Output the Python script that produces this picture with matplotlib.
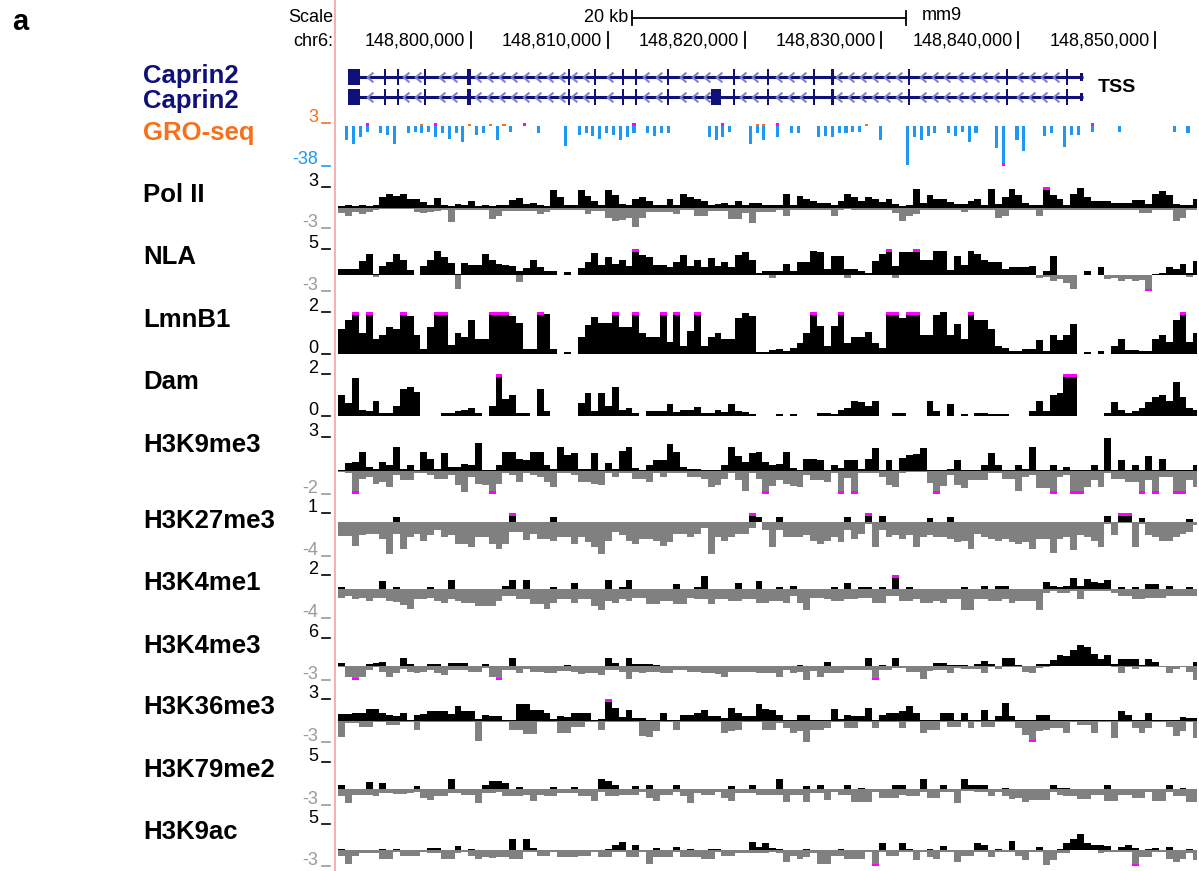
import numpy as np
import matplotlib
matplotlib.use('Agg')
import matplotlib.pyplot as plt
from matplotlib.path import Path
from matplotlib.patches import Rectangle

plt.rcParams['font.family'] = ['Liberation Sans', 'DejaVu Sans']

W, H = 1199, 871
nan = float('nan')

# genomic window (mm9, chr6), signal summarised in 500 bp bins
view_start, view_end = 148790278, 148853070
bin_start, bin_size, n_bins = 148790300, 500, 126
ruler_ticks = [148800000, 148810000, 148820000, 148830000, 148840000, 148850000]
scale_start, scale_len = 148811770, 20000

# Caprin2 (minus strand, TSS on the right); (start, end, kind)
gene_span = (148791009, 148844737)
shared_exons = [(148791009, 148791886, 'thick'), (148793610, 148793760, 'thick'),
                (148794575, 148794725, 'thick'), (148796585, 148796735, 'thick'),
                (148799730, 148799980, 'thick'), (148807075, 148807225, 'thick'),
                (148809010, 148809160, 'thick'), (148811020, 148811170, 'thick'),
                (148811985, 148812135, 'thick'), (148814325, 148814475, 'thick'),
                (148819135, 148819285, 'thick'), (148821615, 148821765, 'thick'),
                (148825000, 148825150, 'thick'), (148826320, 148826570, 'thick'),
                (148831945, 148832095, 'thick'), (148839105, 148839255, 'thick'),
                (148843490, 148843640, 'thick'), (148844520, 148844737, 'thin')]
tx1_exons = shared_exons
tx2_exons = shared_exons + [(148817544, 148818275, 'thick')]

# GRO-seq: minus strand (blue, shown downwards) and plus strand reads, by bin
gro_minus = {1: 13, 2: 17, 3: 10, 4: 6, 6: 7, 7: 8, 8: 17, 10: 7, 11: 6, 12: 7, 13: 6,
             14: 10, 15: 7, 16: 12, 17: 7, 18: 15, 20: 8, 21: 7, 23: 13, 25: 6, 29: 7,
             33: 19, 35: 8, 36: 7, 37: 9, 38: 12, 39: 7, 40: 8, 41: 13, 42: 10, 43: 7,
             45: 7, 46: 9, 47: 7, 48: 7, 54: 10, 55: 13, 56: 10, 57: 6, 60: 17, 61: 7,
             62: 13, 64: 10, 66: 7, 67: 7, 70: 10, 71: 9, 72: 10, 73: 7, 74: 7, 75: 6,
             76: 6, 79: 13, 83: 37.5, 84: 10, 85: 13, 86: 9, 87: 7, 89: 7, 90: 9, 91: 6,
             92: 15, 93: 7, 96: 21, 97: 42, 99: 13, 100: 24, 103: 9, 104: 7, 106: 20,
             107: 8, 108: 8, 110: 6, 114: 6, 122: 6, 124: 7}
gro_plus = {4: 5, 12: 2.5, 14: 5, 19: 2.5, 22: 2.5, 24: 2.5, 27: 5, 43: 5, 56: 5,
            61: 2.5, 62: 2.5, 64: 5, 77: 2.5, 110: 5}

pol2_up = [0.2, 0.3, 0.2, 0.3, 0.2, 0.3, 1.5, 2.0, 1.7, 2.0,
           1.2, 1.3, 0.8, 0.3, 1.4, 0.3, 0.2, 0.5, 0.3, 0.9,
           0.2, 0.3, 0.2, 0.4, 0.3, 1.1, 1.4, 0.5, 0.6, 0.3,
           0.2, 2.5, 1.5, 0.4, 0.3, 2.6, 1.7, 0.9, 0.3, 2.5,
           1.8, 0.5, 0.4, 1.2, 1.6, 1.0, 0.4, 0.3, 1.2, 0.4,
           2.0, 1.5, 1.2, 0.9, 0.3, 0.5, 0.6, 0.4, 1.0, 0.4,
           0.6, 0.7, 0.4, 0.4, 0.4, 2.0, 0.4, 1.7, 1.2, 1.0,
           0.7, 0.7, 0.3, 1.0, 2.0, 1.6, 1.0, 1.5, 1.2, 0.8,
           1.2, 0.5, 0.2, 0.3, 2.7, 0.6, 1.9, 1.3, 1.2, 0.8,
           0.5, 0.5, 1.0, 1.2, 0.4, 2.7, 0.5, 1.5, 2.7, 1.8,
           0.7, 0.4, 0.3, 3.2, 1.8, 1.2, 0.4, 2.0, 2.9, 1.5,
           1.0, 1.0, 1.0, 0.7, 0.7, 0.7, 1.1, 1.1, 0.5, 2.0,
           2.4, 1.8, 0.5, 0.3, 0.4, 1.2]
pol2_down = [0.8, 1.2, 0.7, 1.0, 0.6, 0.4, 0.2, 0.2, 0.2, 0.2,
             0.2, 0.7, 0.8, 0.6, 0.5, 0.3, 2.1, 0.4, 0.4, 0.4,
             0.4, 0.4, 1.7, 1.3, 0.5, 0.5, 0.5, 0.5, 0.5, 1.0,
             0.7, 0.3, 0.3, 0.3, 0.3, 0.3, 1.0, 0.5, 0.5, 1.5,
             2.0, 1.8, 1.5, 2.9, 1.5, 0.6, 0.6, 0.6, 0.6, 1.0,
             0.3, 0.3, 1.3, 1.3, 0.5, 0.5, 0.5, 1.7, 1.7, 0.8,
             2.3, 0.6, 0.6, 0.6, 0.3, 1.2, 0.3, 0.3, 0.4, 0.3,
             0.3, 0.4, 1.2, 0.3, 0.2, 0.3, 0.3, 0.3, 0.4, 0.3,
             0.4, 0.8, 2.0, 1.3, 1.0, 0.4, 0.3, 0.3, 0.3, 0.4,
             0.4, 0.6, 0.3, 0.3, 0.3, 0.4, 1.5, 1.2, 0.3, 0.3,
             0.3, 0.4, 1.3, 0.3, 0.3, 0.3, 0.3, 0.3, 0.3, 0.4,
             0.3, 0.3, 0.3, 0.3, 0.3, 0.3, 0.4, 0.8, 0.8, 0.3,
             0.3, 0.4, 2.0, 1.5, 0.4, 0.3]

nla_up = [1.1, 1.1, 1.2, 2.7, 4.0, 0.3, 1.8, 2.5, 4.0, 3.0,
          1.0, nan, 1.8, 3.0, 4.6, 3.5, 2.4, 0.3, 2.4, 2.0,
          2.0, 4.0, 3.0, 2.1, 2.0, 1.8, 0.8, 1.3, 3.0, 1.5,
          0.8, 0.8, nan, 0.7, nan, 1.3, 2.5, 4.3, 2.0, 3.4,
          2.2, 3.0, 1.8, 5.5, 3.8, 3.5, 2.0, 2.0, 1.6, 2.6,
          3.8, 1.8, 3.0, 1.6, 3.2, 1.8, 2.5, 1.5, 3.8, 4.4,
          3.0, 0.5, 0.8, 0.8, 0.8, 2.1, 0.8, 2.6, 2.6, 4.7,
          4.4, 1.2, 3.6, 3.6, 1.2, 1.2, 0.8, 0.5, 2.8, 4.0,
          5.5, 1.8, 4.4, 4.4, 5.5, 3.0, 3.0, 4.7, 4.7, 1.0,
          3.7, 2.0, 4.7, 4.0, 3.0, 2.6, 2.6, 1.1, 1.5, 1.5,
          1.5, 1.8, 0.0, 0.8, 3.7, 0.0, 0.0, 0.0, nan, 0.8,
          nan, 1.5, 0.0, 0.0, 0.0, 0.0, 0.0, 0.0, 0.0, 0.3,
          0.4, 1.5, 1.2, 2.1, 0.5, 2.8]
nla_down = {5: 0.4, 17: 2.7, 26: 1.3, 63: 0.5, 74: 0.6, 81: 0.6, 102: 0.5, 103: 0.3,
            104: 1.0, 105: 0.8, 106: 1.5, 107: 2.7, 112: 0.8, 113: 0.6, 114: 1.0,
            115: 0.8, 116: 1.0, 117: 0.9, 118: 3.5, 124: 0.3}

lmnb1 = [1.2, 1.6, 2.1, 1.0, 2.1, 0.7, 0.9, 1.3, 1.2, 2.1,
         1.8, 0.9, 0.25, 1.3, 2.1, 2.1, 0.45, 1.0, 0.8, 1.6,
         0.7, 0.7, 2.1, 2.1, 2.1, 1.8, 1.5, 0.25, 0.25, 2.1,
         1.9, 0.25, nan, 0.1, nan, 0.8, 1.4, 1.75, 1.5, 1.5,
         2.1, 1.3, 1.3, 2.1, 1.0, 0.8, 0.8, 2.1, 0.55, 2.1,
         0.4, 1.1, 2.1, 0.4, 0.8, 1.0, 0.7, 0.7, 1.7, 1.95,
         1.8, 0.1, 0.1, 0.2, 0.25, 0.15, 0.3, 0.5, 1.0, 2.1,
         1.35, 0.4, 1.35, 2.1, 0.5, 0.8, 0.8, 1.05, 0.5, 0.3,
         2.1, 2.1, 1.7, 2.1, 2.1, 0.9, 0.9, 1.85, 2.0, 0.9,
         1.45, 0.7, 2.1, 1.6, 1.6, 1.2, 0.4, 0.3, 0.15, 0.15,
         0.25, 0.25, 0.65, 0.15, 0.9, 0.65, 0.9, 1.45, nan, 0.1,
         nan, 0.15, nan, 0.4, 0.7, 0.2, 0.2, 0.15, 0.15, 0.7,
         0.9, 0.55, 1.6, 2.1, 0.55, 1.0]

dam = [1.0, 0.6, 1.8, 0.3, 0.25, 0.7, 0.15, 0.15, 0.5, 1.3,
       1.4, 1.15, nan, nan, nan, 0.15, 0.15, 0.25, 0.3, 0.4,
       0.15, nan, 0.5, 2.1, 0.8, 1.0, 0.15, 0.15, nan, 1.3,
       0.25, nan, nan, nan, nan, 0.6, 1.1, 0.25, 1.1, 0.5,
       1.4, 0.3, 0.4, 0.15, nan, 0.25, 0.25, 0.25, 0.55, 0.2,
       0.3, 0.3, 0.45, 0.15, 0.15, 0.3, 0.2, 0.55, 0.25, 0.2,
       0.1, nan, nan, nan, 0.1, nan, 0.1, nan, nan, nan,
       0.15, 0.15, 0.1, 0.3, 0.4, 0.7, 0.65, 0.5, 0.7, nan,
       nan, 0.15, 0.15, nan, nan, nan, 0.7, 0.25, nan, 0.55,
       nan, 0.1, nan, 0.15, 0.15, 0.1, 0.1, 0.1, nan, nan,
       nan, 0.25, 0.7, 0.25, 1.0, 1.1, 2.1, 2.1, nan, nan,
       nan, nan, 0.15, 0.65, 0.3, 0.15, 0.25, 0.4, 0.65, 0.9,
       1.0, 0.7, 1.6, 0.9, 0.4, 0.3]

h3k9me3_up = [0.1, 0.7, 0.85, 1.7, 0.4, 0.2, 0.85, 0.55, 2.1, 0.2,
              0.5, 0.1, 1.7, 1.1, 0.2, 1.6, 0.4, 0.4, 0.6, 0.5,
              2.5, 0.1, 0.1, 0.5, 1.7, 1.7, 1.1, 1.0, 1.7, 1.7,
              0.5, 0.2, 2.1, 1.4, 1.6, 0.2, 0.2, 1.6, 0.1, 0.7,
              0.2, 1.8, 2.1, 0.3, 0.1, 0.5, 1.0, 1.0, 2.4, 1.7,
              0.4, 0.2, 0.2, 0.1, 0.1, 0.1, 0.5, 2.1, 1.3, 0.8,
              1.6, 1.7, 0.8, 0.5, 0.6, 1.7, 0.3, 0.1, 1.1, 1.1,
              1.0, 0.1, 0.5, 0.3, 1.0, 1.0, 0.2, 1.1, 2.0, 0.1,
              1.0, 0.1, 1.2, 1.4, 1.5, 2.0, 0.1, 0.1, 0.1, 0.2,
              1.0, 0.1, 0.1, 0.1, 0.5, 1.6, 0.5, 0.1, 0.1, 0.5,
              0.2, 2.1, 0.1, 0.1, 0.5, 0.1, 0.4, 0.1, 0.1, 0.1,
              0.5, 0.1, 2.95, 0.1, 1.0, 0.1, 0.5, 0.1, 1.3, 0.1,
              1.1, 0.1, 0.1, 0.1, 0.1, 0.5]
h3k9me3_down = [0.1, 0.2, 2.2, 0.65, 0.5, 1.1, 0.95, 1.4, 0.3, 0.8,
                0.8, 0.2, 0.2, 0.3, 0.65, 0.65, 0.3, 1.25, 1.85, 0.5,
                1.1, 1.25, 2.2, 1.1, 0.2, 0.3, 0.95, 0.2, 0.3, 0.5,
                0.95, 1.4, 0.2, 0.2, 0.3, 0.95, 0.95, 1.1, 1.25, 0.2,
                0.5, 0.2, 0.2, 0.65, 0.65, 0.95, 0.2, 0.5, 0.2, 0.2,
                0.2, 0.5, 0.5, 0.65, 1.4, 1.25, 0.65, 0.2, 0.8, 1.7,
                0.2, 0.65, 2.2, 1.3, 0.8, 1.1, 1.3, 1.4, 0.3, 0.8,
                0.8, 0.95, 0.2, 2.2, 0.6, 2.2, 0.2, 0.2, 0.2, 0.5,
                1.25, 1.4, 0.2, 0.1, 0.1, 0.1, 1.0, 2.2, 1.3, 0.3,
                1.25, 1.5, 0.8, 0.8, 0.8, 0.2, 0.2, 0.65, 0.65, 1.7,
                0.5, 0.3, 1.5, 1.5, 2.2, 0.5, 0.3, 2.2, 2.2, 1.4,
                0.8, 1.4, 0.2, 0.65, 0.65, 0.95, 0.95, 2.2, 0.8, 2.2,
                0.5, 0.5, 2.2, 2.2, 0.8, 1.4]

h3k27me3_up = {8: 0.5, 25: 1.2, 31: 0.5, 60: 1.2, 61: 0.5, 64: 0.5, 74: 0.5, 77: 1.2,
               79: 0.7, 86: 0.4, 89: 0.5, 112: 0.7, 114: 1.2, 115: 1.2, 117: 0.4, 124: 0.3}
h3k27me3_down = [1.7, 1.7, 2.8, 1.6, 1.4, 1.4, 2.0, 3.8, 1.4, 3.2,
                 1.8, 1.4, 2.2, 1.6, 1.0, 1.8, 1.5, 2.6, 2.6, 3.0,
                 1.8, 1.8, 2.6, 3.2, 2.6, 1.2, 1.2, 2.1, 1.4, 2.0,
                 2.0, 2.2, 1.8, 1.8, 2.6, 1.8, 2.4, 3.0, 3.8, 2.2,
                 1.2, 1.6, 2.2, 2.6, 2.0, 2.0, 2.2, 2.8, 2.4, 1.4,
                 1.4, 1.8, 1.4, 0.8, 3.8, 1.8, 2.2, 1.8, 1.4, 1.4,
                 0.8, 0.1, 1.0, 3.0, 1.0, 1.8, 1.8, 1.8, 1.6, 2.2,
                 2.6, 2.2, 1.8, 2.4, 1.0, 2.0, 1.4, 0.3, 3.0, 1.0,
                 1.8, 1.6, 2.0, 1.6, 3.0, 1.8, 1.6, 1.8, 1.8, 2.0,
                 2.4, 2.2, 3.2, 1.4, 1.8, 2.0, 2.2, 2.0, 2.4, 2.6,
                 2.4, 3.2, 2.0, 2.0, 3.7, 2.0, 1.8, 3.3, 1.6, 1.8,
                 2.2, 3.0, 0.3, 1.6, 0.2, 0.2, 3.0, 0.3, 1.6, 1.8,
                 2.2, 2.2, 1.8, 1.4, 1.2, 0.4]

h3k4me1_up = {0: 0.3, 6: 1.2, 8: 0.3, 13: 0.3, 16: 1.3, 24: 0.5, 25: 1.3, 27: 1.3,
              31: 0.3, 34: 0.9, 39: 1.3, 41: 0.3, 42: 1.3, 49: 0.8, 52: 0.3, 53: 1.9,
              58: 0.9, 61: 1.2, 64: 0.3, 66: 0.5, 72: 0.3, 74: 0.9, 76: 0.3, 77: 0.3,
              79: 0.3, 81: 2.2, 83: 0.3, 91: 0.3, 94: 0.5, 96: 0.5, 97: 0.5, 103: 1.0,
              104: 0.4, 105: 0.3, 106: 0.5, 107: 1.6, 108: 0.5, 109: 1.5, 110: 1.0,
              111: 0.9, 112: 1.3, 114: 0.3, 116: 0.3, 118: 0.7, 119: 0.7, 121: 0.5, 124: 0.3}
h3k4me1_down = [1.2, 1.0, 1.4, 1.2, 1.6, 1.2, 1.2, 1.6, 1.8, 2.2,
                2.7, 1.4, 1.4, 1.2, 1.6, 1.9, 1.4, 1.6, 1.9, 1.9,
                2.3, 2.3, 2.3, 1.6, 1.0, 0.9, 1.4, 1.4, 2.1, 2.1,
                2.8, 1.9, 1.4, 1.4, 1.9, 1.4, 1.4, 2.3, 2.9, 1.6,
                1.9, 1.4, 1.6, 1.2, 1.2, 2.1, 2.1, 1.6, 1.6, 2.1,
                2.1, 1.2, 1.4, 1.4, 2.1, 1.4, 1.4, 1.6, 1.6, 1.4,
                1.4, 1.9, 1.9, 1.6, 1.6, 1.9, 0.9, 1.9, 2.9, 1.2,
                1.2, 1.4, 1.6, 1.6, 1.4, 1.4, 1.2, 1.2, 1.9, 1.9,
                0.9, 0.9, 1.6, 1.6, 1.4, 1.9, 1.9, 1.6, 1.9, 1.4,
                1.4, 2.9, 2.9, 1.4, 1.4, 1.6, 1.6, 1.4, 1.9, 1.6,
                1.6, 1.6, 2.9, 0.5, 0.3, 0.5, 0.5, 0.3, 1.3, 0.3,
                0.3, 0.3, 0.3, 0.5, 0.9, 0.9, 1.4, 1.4, 1.2, 1.2,
                1.2, 1.0, 1.0, 0.9, 0.9, 0.9]

h3k4me3_up = {0: 0.6, 4: 0.5, 5: 0.6, 6: 0.9, 9: 1.8, 10: 0.5, 13: 0.4, 14: 0.4, 16: 0.65,
              17: 0.65, 18: 0.65, 21: 0.4, 25: 1.8, 33: 0.2, 39: 1.8, 40: 0.6, 42: 1.8,
              43: 0.5, 44: 0.4, 45: 0.4, 46: 0.2, 67: 0.3, 71: 0.85, 77: 1.8, 79: 0.3,
              81: 1.7, 87: 0.7, 88: 0.7, 89: 0.3, 90: 0.3, 91: 0.3, 93: 0.5, 94: 1.0,
              95: 0.5, 97: 1.7, 98: 1.7, 99: 0.3, 102: 0.5, 103: 0.5, 104: 1.2, 105: 2.3,
              106: 2.1, 107: 3.5, 108: 4.6, 109: 4.1, 110: 2.6, 111: 1.6, 112: 2.3,
              113: 0.5, 114: 1.4, 115: 1.4, 116: 1.4, 117: 0.3, 118: 1.6, 119: 0.85, 125: 0.85}
h3k4me3_down = [0.3, 2.4, 3.2, 2.4, 0.8, 0.3, 1.3, 2.4, 1.5, 0.6,
                1.2, 1.6, 1.2, 0.9, 1.6, 2.0, 0.8, 0.8, 0.8, 1.3,
                1.3, 0.4, 2.4, 3.2, 0.9, 0.9, 1.5, 0.6, 1.3, 1.3,
                1.6, 1.6, 1.1, 1.1, 1.3, 1.8, 1.6, 1.6, 2.0, 0.8,
                0.8, 1.3, 2.7, 1.3, 1.6, 1.3, 1.3, 1.6, 1.6, 0.9,
                0.9, 1.3, 1.3, 1.6, 1.6, 1.8, 2.4, 1.3, 1.3, 1.3,
                1.3, 1.6, 1.6, 1.6, 2.4, 0.9, 1.6, 1.3, 2.9, 1.0,
                2.4, 1.6, 1.6, 1.6, 0.9, 0.9, 0.9, 0.9, 3.2, 0.9,
                0.9, 0.5, 0.5, 1.3, 1.3, 2.7, 1.0, 0.9, 0.9, 1.6,
                0.5, 0.6, 0.6, 0.6, 1.6, 0.3, 0.6, 0.3, 0.3, 0.3,
                1.3, 1.6, 0.5, 0.2, 0.0, 0.0, 0.0, 0.0, 0.0, 0.0,
                0.0, 0.0, 0.0, 0.2, 1.5, 0.3, 0.6, 0.3, 0.3, 0.3,
                0.3, 1.6, 0.6, 0.3, 1.3, 2.9]

h3k36me3_up = [0.9, 0.9, 1.1, 1.1, 1.6, 1.6, 1.0, 0.7, 0.6, 1.0,
               0.1, 0.8, 0.9, 1.3, 1.3, 1.3, 0.9, 2.0, 1.3, 1.3,
               0.2, 0.7, 0.6, 0.6, 0.1, 0.1, 2.3, 2.3, 1.5, 1.5,
               1.0, 0.2, 0.6, 0.5, 1.0, 1.0, 1.0, 0.1, 0.2, 3.1,
               1.7, 0.5, 1.5, 0.3, 0.3, 0.1, 0.1, 1.0, 0.1, 0.1,
               0.8, 0.8, 1.1, 1.5, 0.6, 0.6, 0.3, 1.8, 1.0, 0.6,
               0.6, 2.3, 1.6, 1.5, 0.8, 0.1, 0.1, 0.8, 0.8, 0.1,
               0.1, 0.1, 1.6, 0.2, 0.8, 0.6, 0.6, 1.8, 0.1, 0.8,
               1.0, 1.1, 1.3, 2.0, 1.0, 0.1, 0.1, 0.1, 1.1, 1.1,
               0.1, 1.0, 0.1, 0.1, 1.4, 0.1, 0.6, 2.4, 0.6, 0.1,
               0.1, 0.1, 0.7, 0.7, 0.1, 0.1, 0.1, 0.1, 0.1, 0.1,
               0.1, 0.1, 0.1, 0.1, 1.3, 0.8, 0.1, 0.1, 1.0, 0.1,
               0.1, 0.1, 0.1, 0.5, 0.3, 0.3]
h3k36me3_down = [2.3, 0.4, 0.4, 0.9, 0.9, 0.2, 0.2, 0.6, 0.6, 0.2,
                 0.2, 1.3, 0.2, 0.2, 0.2, 0.2, 0.2, 0.2, 0.2, 0.2,
                 2.9, 0.2, 0.2, 0.2, 0.2, 1.3, 1.3, 1.9, 1.9, 0.2,
                 0.2, 0.2, 1.8, 1.8, 0.9, 0.9, 0.2, 0.2, 1.3, 0.2,
                 0.2, 0.2, 0.2, 0.2, 2.1, 2.3, 1.5, 0.2, 0.2, 1.3,
                 0.2, 0.2, 0.2, 0.2, 0.2, 0.2, 1.8, 1.5, 1.3, 0.2,
                 0.2, 0.2, 1.3, 1.3, 0.3, 1.1, 1.8, 1.5, 3.0, 1.3,
                 1.3, 1.0, 0.2, 0.2, 1.1, 1.1, 0.2, 0.2, 1.1, 0.2,
                 0.2, 0.2, 1.1, 0.2, 0.2, 1.8, 1.3, 1.3, 0.2, 0.9,
                 0.9, 0.2, 1.1, 0.2, 0.9, 0.9, 0.2, 0.2, 0.2, 1.1,
                 2.0, 3.2, 1.5, 1.3, 1.1, 1.1, 1.8, 0.2, 0.6, 0.6,
                 1.8, 0.2, 0.2, 2.5, 0.2, 0.2, 1.1, 1.8, 1.1, 0.2,
                 0.2, 0.9, 2.1, 1.5, 0.2, 2.5]

h3k79me2_up = {0: 0.8, 4: 1.3, 6: 1.1, 11: 0.6, 16: 1.9, 21: 0.8, 22: 1.4, 23: 1.4,
               24: 1.1, 26: 0.4, 31: 0.4, 34: 0.4, 38: 1.8, 39: 1.4, 40: 0.8, 43: 0.6,
               45: 0.8, 49: 0.75, 57: 0.5, 60: 0.7, 64: 1.8, 68: 0.6, 70: 0.8, 74: 0.8,
               76: 0.2, 81: 0.8, 82: 0.8, 85: 1.8, 88: 0.7, 91: 1.8, 92: 0.8, 93: 0.8,
               94: 0.8, 97: 0.2, 104: 0.8, 105: 0.2, 106: 0.2, 112: 0.8, 121: 0.7, 123: 0.2}
h3k79me2_down = [1.4, 2.6, 1.1, 1.1, 1.1, 1.4, 0.8, 0.8, 1.0, 1.0,
                 0.8, 0.6, 1.7, 2.1, 1.4, 1.4, 0.8, 0.8, 1.1, 1.1,
                 2.6, 0.8, 0.8, 0.6, 1.4, 1.4, 1.4, 1.1, 2.3, 1.1,
                 1.4, 1.4, 0.8, 0.8, 0.8, 1.3, 1.3, 2.2, 0.6, 1.3,
                 1.3, 1.1, 1.1, 1.1, 0.6, 1.7, 2.3, 1.1, 1.1, 0.6,
                 1.3, 2.6, 0.8, 1.1, 1.1, 0.6, 1.7, 2.3, 0.8, 0.8,
                 0.8, 1.1, 1.1, 1.1, 1.1, 2.5, 1.1, 1.1, 2.5, 0.8,
                 0.8, 2.0, 0.6, 1.1, 1.1, 2.5, 2.5, 2.5, 0.6, 1.7,
                 1.7, 1.7, 1.1, 1.3, 1.3, 0.6, 1.7, 1.7, 0.6, 0.6,
                 2.6, 0.4, 0.4, 0.6, 0.6, 1.4, 0.6, 1.4, 1.9, 1.7,
                 2.5, 2.0, 2.0, 2.0, 0.6, 1.1, 1.4, 1.4, 1.9, 1.9,
                 1.1, 1.1, 2.3, 2.3, 1.1, 1.1, 1.7, 1.7, 0.6, 2.3,
                 2.3, 0.6, 1.4, 1.4, 2.5, 2.5]

h3k9ac_up = {0: 0.3, 6: 0.3, 8: 0.3, 13: 0.45, 14: 0.45, 17: 0.8, 19: 0.3, 25: 2.2,
             27: 2.2, 28: 0.45, 39: 0.3, 40: 1.0, 41: 1.5, 43: 1.0, 46: 0.45, 49: 0.6,
             51: 0.3, 54: 0.3, 55: 0.3, 60: 1.6, 61: 0.6, 62: 1.3, 63: 0.45, 64: 0.2,
             68: 0.2, 73: 0.2, 79: 1.3, 82: 1.3, 83: 0.2, 86: 0.2, 88: 0.8, 93: 1.3,
             94: 1.0, 96: 0.3, 98: 1.7, 102: 0.6, 105: 0.2, 106: 1.3, 107: 2.2, 108: 3.1,
             109: 1.3, 110: 1.0, 111: 1.0, 112: 0.8, 114: 0.6, 115: 1.0, 116: 0.5,
             118: 0.3, 119: 0.45, 121: 0.6, 124: 0.2}
h3k9ac_down = [1.0, 2.6, 1.0, 0.6, 0.6, 0.6, 1.6, 1.6, 0.3, 1.0,
               1.0, 1.0, 0.3, 0.6, 0.6, 1.6, 1.6, 0.6, 0.3, 1.0,
               1.6, 1.3, 1.5, 1.3, 1.3, 1.6, 1.6, 0.3, 0.3, 1.0,
               1.0, 0.3, 1.3, 1.3, 1.3, 1.0, 1.0, 0.3, 1.3, 1.3,
               0.3, 0.3, 1.3, 1.3, 0.3, 2.7, 1.3, 1.3, 1.3, 0.3,
               1.3, 1.3, 1.3, 1.6, 1.6, 0.3, 1.0, 1.0, 0.6, 0.6,
               0.6, 0.6, 0.6, 0.3, 0.6, 2.2, 1.0, 1.6, 1.3, 0.6,
               2.6, 2.6, 1.0, 1.0, 1.6, 1.6, 1.6, 0.3, 3.2, 0.3,
               1.0, 1.0, 0.3, 0.3, 1.9, 0.3, 1.3, 1.6, 0.3, 0.3,
               2.2, 1.0, 1.0, 0.3, 0.3, 1.3, 0.3, 0.3, 0.3, 1.0,
               1.9, 0.3, 0.3, 2.9, 1.9, 0.6, 0.6, 0.0, 0.0, 0.0,
               0.0, 0.6, 0.3, 0.3, 0.3, 0.3, 3.2, 1.3, 1.3, 0.3,
               0.3, 1.6, 2.2, 1.6, 0.6, 1.9]

# track name, top/bottom scale labels, pixel rows of the scale ticks, view limits, data
tracks = [
    ('Pol II', '3', '-3', 187, 228, 3, -3, pol2_up, pol2_down),
    ('NLA', '5', '-3', 249, 291, 5, -3, nla_up, nla_down),
    ('LmnB1', '2', '0', 312, 354, 2, 0, lmnb1, None),
    ('Dam', '2', '0', 374, 416, 2, 0, dam, None),
    ('H3K9me3', '3', '-2', 437, 494, 3, -2, h3k9me3_up, h3k9me3_down),
    ('H3K27me3', '1', '-4', 513, 556, 1, -4, h3k27me3_up, h3k27me3_down),
    ('H3K4me1', '2', '-4', 575, 618, 2, -4, h3k4me1_up, h3k4me1_down),
    ('H3K4me3', '6', '-3', 638, 680, 6, -3, h3k4me3_up, h3k4me3_down),
    ('H3K36me3', '3', '-3', 699, 742, 3, -3, h3k36me3_up, h3k36me3_down),
    ('H3K79me2', '5', '-3', 762, 805, 5, -3, h3k79me2_up, h3k79me2_down),
    ('H3K9ac', '5', '-3', 824, 866, 5, -3, h3k9ac_up, h3k9ac_down),
]

NAVY = '#10107a'
CHEVRON = '#8282c6'
ORANGE = '#f7701a'
BLUE = '#1e98f5'
MAGENTA = '#ff00ff'
GREY = '#808080'
X0, X1 = 338, 1197
NAME_SIZE = 18.5
NUM_SIZE = 13


def dense(values):
    if isinstance(values, dict):
        out = np.zeros(n_bins)
        for k, v in values.items():
            out[k] = v
        return out
    return np.asarray(values, dtype=float)


def px_axes(x0, y0, x1, y1):
    ax = fig.add_axes([x0 / W, 1 - y1 / H, (x1 - x0) / W, (y1 - y0) / H])
    ax.set_xlim(view_start, view_end)
    ax.axis('off')
    return ax


fig = plt.figure(figsize=(W / 100, H / 100), dpi=100)

# pixel-space overlay for labels
bg = fig.add_axes([0, 0, 1, 1])
bg.set_xlim(0, W)
bg.set_ylim(H, 0)
bg.axis('off')
bg.plot([335, 335], [0, H], color='#f4a3a3', lw=1.2)
bg.text(12, 22, 'a', fontsize=21, fontweight='bold', va='center', ha='left')
bg.text(333, 18, 'Scale', fontsize=13, ha='right', va='center')
bg.text(333, 41, 'chr6:', fontsize=13, ha='right', va='center')
bg.text(143, 76, 'Caprin2', fontsize=NAME_SIZE, fontweight='bold', color=NAVY, va='center')
bg.text(143, 101, 'Caprin2', fontsize=NAME_SIZE, fontweight='bold', color=NAVY, va='center')
bg.text(1098, 87, 'TSS', fontsize=14, fontweight='bold', va='center')

x_bins = bin_start + bin_size * np.arange(n_bins)

# ruler and scale bar
ruler = px_axes(X0, 0, X1, 55)
ruler.set_ylim(55, 0)
ruler.plot([scale_start, scale_start + scale_len], [18, 18], color='black', lw=1.3)
for xe in (scale_start, scale_start + scale_len):
    ruler.plot([xe, xe], [11, 25], color='black', lw=1.3)
ruler.annotate('20 kb', (scale_start, 18), xytext=(-3, 0), textcoords='offset points',
               ha='right', va='center', fontsize=13)
ruler.annotate('mm9', (scale_start + scale_len, 16), xytext=(12, 0), textcoords='offset points',
               ha='left', va='center', fontsize=13)
for t in ruler_ticks:
    ruler.plot([t, t], [32, 48], color='black', lw=1.3)
    ruler.annotate(f'{t:,}', (t, 41), xytext=(-4, 0), textcoords='offset points',
                   ha='right', va='center', fontsize=13)

# gene models
chev = Path([(0.6, 1.0), (-0.6, 0.0), (0.6, -1.0)], [Path.MOVETO, Path.LINETO, Path.LINETO])
gene = px_axes(X0, 60, X1, 112)
gene.set_ylim(112, 60)
for yc, exons in [(77, tx1_exons), (97, tx2_exons)]:
    gene.plot(gene_span, [yc, yc], color=NAVY, lw=2.2, solid_capstyle='butt', zorder=2)
    marks = np.arange(gene_span[0] + 700, gene_span[1] - 300, 880)
    keep = [m for m in marks if all(m < s - 300 or m > e + 300 for s, e, _ in exons)]
    gene.plot(keep, [yc] * len(keep), ls='none', marker=chev, ms=7, mfc='none',
              mec=CHEVRON, mew=1.5, zorder=3)
    for s, e, kind in exons:
        h = 16 if kind == 'thick' else 8
        gene.add_patch(Rectangle((s, yc - h / 2), e - s, h, color=NAVY, lw=0, zorder=4))

# GRO-seq
gro = px_axes(X0, 123, X1, 166)
gro.set_ylim(-38, 3)
gm, gp = dense(gro_minus), dense(gro_plus)
gro.bar(x_bins, -np.minimum(gm, 38), width=bin_size * 0.45, align='edge', color=BLUE,
        lw=0, antialiased=False)
clip = gm > 38
gro.bar(x_bins[clip], 2.5, bottom=-38, width=bin_size * 0.45, align='edge', color=MAGENTA, lw=0)
gro.bar(x_bins, np.minimum(gp, 3), width=bin_size * 0.45, align='edge',
        color=[MAGENTA if v > 3 else ORANGE for v in gp], lw=0)
bg.text(143, 133, 'GRO-seq', fontsize=NAME_SIZE, fontweight='bold', color=ORANGE, va='center')
bg.text(318, 117, '3', fontsize=NUM_SIZE, color=ORANGE, ha='right', va='center')
bg.text(318, 160, '-38', fontsize=NUM_SIZE, color=BLUE, ha='right', va='center')
for yt, c in [(123, ORANGE), (166, BLUE)]:
    bg.plot([322, 330], [yt, yt], color=c, lw=1.2)

# signal tracks
for name, lab_top, lab_bot, top, bot, vmax, vmin, up, down in tracks:
    ax = px_axes(X0, top, X1, bot)
    ax.set_ylim(vmin, vmax)
    cap = (vmax - vmin) * 2.5 / (bot - top)
    u = np.nan_to_num(dense(up))
    ax.bar(x_bins, np.minimum(u, vmax), width=bin_size, align='edge', color='black',
           lw=0, antialiased=False)
    hi = u > vmax
    ax.bar(x_bins[hi], cap, bottom=vmax - cap, width=bin_size, align='edge',
           color=MAGENTA, lw=0, antialiased=False)
    if down is not None:
        d = dense(down)
        ax.bar(x_bins, -np.minimum(d, -vmin), width=bin_size, align='edge', color=GREY,
               lw=0, antialiased=False)
        lo = d > -vmin
        ax.bar(x_bins[lo], cap, bottom=vmin, width=bin_size, align='edge',
               color=MAGENTA, lw=0, antialiased=False)

    bot_color = '#9a9a9a' if vmin < 0 else 'black'
    bg.text(143, top + 8, name, fontsize=NAME_SIZE, fontweight='bold', va='center')
    bg.text(318, top - 6, lab_top, fontsize=NUM_SIZE, ha='right', va='center')
    bg.text(318, bot - 6, lab_bot, fontsize=NUM_SIZE, ha='right', va='center', color=bot_color)
    bg.plot([322, 330], [top, top], color='black', lw=1.2)
    bg.plot([322, 330], [bot, bot], color=bot_color, lw=1.2)

fig.savefig('out.png', dpi=100)
